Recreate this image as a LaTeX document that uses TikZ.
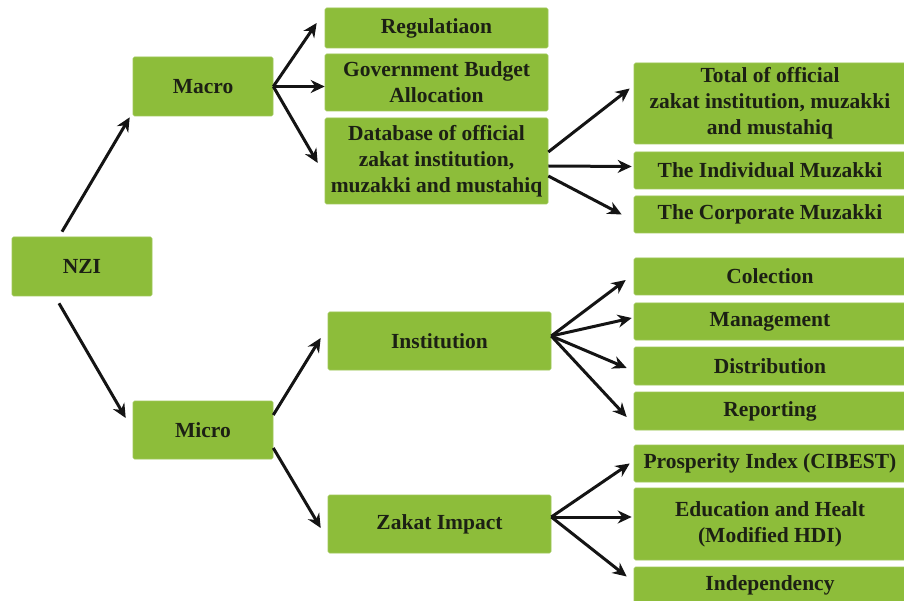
\documentclass[tikz,border=0pt]{standalone}
\usepackage{fontspec}
\setmainfont{Liberation Serif}
\usetikzlibrary{arrows.meta}
\definecolor{boxgreen}{RGB}{141,189,58}
\definecolor{txtdark}{RGB}{28,32,20}
\begin{document}
\begin{tikzpicture}[x=1pt,y=-1pt,
  box/.style={fill=boxgreen, draw=boxgreen!85!white, line width=0.6pt, rounded corners=1.5pt,
    inner sep=0pt, align=center, text=txtdark,
    font=\fontsize{21.5}{26}\selectfont\bfseries},
  arr/.style={draw=black!92, line width=3pt, -{Stealth[length=14pt,width=13pt]}}]
\useasboundingbox (0,0) rectangle (904,601);
% left part
\node[box, minimum width=140pt, minimum height=59pt] (nzi) at (82,266.5) {NZI};
\node[box, minimum width=140pt, minimum height=59pt] (macro) at (203,86.5) {Macro};
\node[box, minimum width=140pt, minimum height=58pt] (micro) at (203,430) {Micro};
% middle column
\node[box, minimum width=223pt, minimum height=40pt] (reg) at (436.5,28) {Regulatiaon};
\node[box, minimum width=223pt, minimum height=57pt] (gov) at (436.5,82.5) {Government Budget\\Allocation};
\node[box, minimum width=223pt, minimum height=86pt] (db) at (436.5,161) {Database of official\\zakat institution,\\muzakki and mustahiq};
\node[box, minimum width=223pt, minimum height=58pt] (inst) at (439.5,341) {Institution};
\node[box, minimum width=223pt, minimum height=58pt] (zak) at (439.5,524) {Zakat Impact};
% right column
\node[box, minimum width=272pt, minimum height=81pt] (total) at (770,103.5) {Total of official\\zakat institution, muzakki\\and mustahiq};
\node[box, minimum width=272pt, minimum height=37pt] (indiv) at (770,170.5) {The Individual Muzakki};
\node[box, minimum width=272pt, minimum height=37pt] (corp) at (770,214.5) {The Corporate Muzakki};
\node[box, minimum width=272pt, minimum height=37pt] (col) at (770,276.5) {Colection};
\node[box, minimum width=272pt, minimum height=37pt] (man) at (770,321.5) {Management};
\node[box, minimum width=272pt, minimum height=38pt] (dis) at (770,366) {Distribution};
\node[box, minimum width=272pt, minimum height=38pt] (rep) at (770,411) {Reporting};
\node[box, minimum width=272pt, minimum height=37pt] (pros) at (770,463.5) {Prosperity Index (CIBEST)};
\node[box, minimum width=272pt, minimum height=72pt] (edu) at (770,524) {Education and Healt\\(Modified HDI)};
\node[box, minimum width=272pt, minimum height=37pt] (indep) at (770,585.5) {Independency};
% arrows
\draw[arr] ([xshift=-20pt,yshift=5pt]nzi.north) -- ([xshift=-3pt,yshift=-1pt]macro.south west);
\draw[arr] ([xshift=-23pt,yshift=-7pt]nzi.south) -- ([xshift=-7pt,yshift=12pt]micro.west);
\draw[arr] (macro.east) -- ([xshift=-8pt,yshift=5pt]reg.west);
\draw[arr] (macro.east) -- ([yshift=-4pt]gov.west);
\draw[arr] (macro.east) -- ([xshift=-7pt,yshift=-2pt]db.west);
\draw[arr] ([yshift=9pt]db.east) -- ([xshift=-4pt,yshift=15pt]total.west);
\draw[arr] ([yshift=-5pt]db.east) -- ([xshift=-2pt,yshift=4pt]indiv.west);
\draw[arr] ([yshift=-15pt]db.east) -- ([xshift=-12pt]corp.west);
\draw[arr] ([yshift=15pt]micro.east) -- ([xshift=-7pt,yshift=3pt]inst.west);
\draw[arr] ([yshift=-18pt]micro.east) -- ([xshift=-7pt,yshift=-4pt]zak.west);
\draw[arr] ([yshift=5pt]inst.east) -- ([xshift=-8pt,yshift=-3.5pt]col.west);
\draw[arr] ([yshift=5pt]inst.east) -- ([xshift=-2pt,yshift=3.5pt]man.west);
\draw[arr] ([yshift=5pt]inst.east) -- ([xshift=-7pt,yshift=-2pt]dis.west);
\draw[arr] ([yshift=5pt]inst.east) -- ([xshift=-7pt,yshift=-6pt]rep.west);
\draw[arr] ([yshift=7pt]zak.east) -- ([xshift=-4pt]pros.west);
\draw[arr] ([yshift=7pt]zak.east) -- ([xshift=-2pt,yshift=7pt]edu.west);
\draw[arr] ([yshift=7pt]zak.east) -- ([xshift=-7pt,yshift=9pt]indep.west);
\end{tikzpicture}
\end{document}
